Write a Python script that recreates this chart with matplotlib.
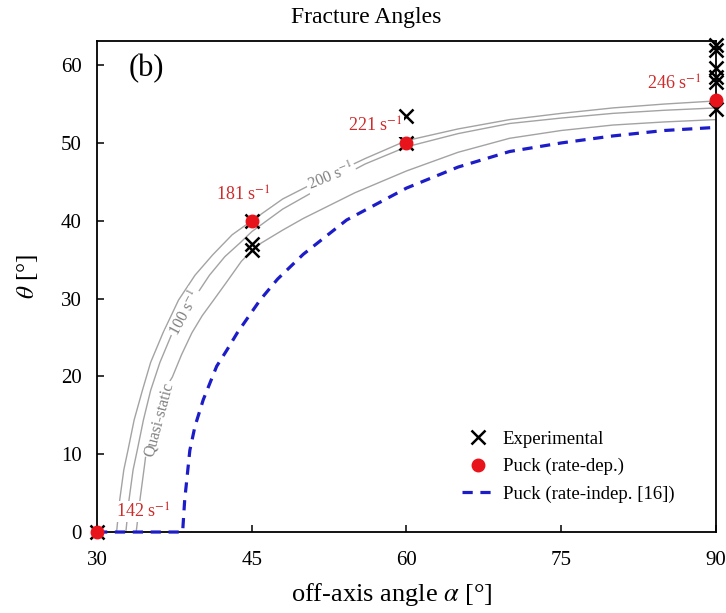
import matplotlib
matplotlib.use('Agg')
import matplotlib.pyplot as plt

plt.rcParams['font.family'] = ['Liberation Serif', 'DejaVu Serif']
plt.rcParams['mathtext.fontset'] = 'stix'

# Gray curves (Puck, rate-dependent at constant strain rate)
qs_alpha = [33.8, 34.2, 34.6, 35.0, 35.7, 37.3, 38.2, 39.2, 40.2, 41.3, 42.5, 44.0, 45.5, 48.0, 50.0, 55.0, 60.0, 65.0, 70.0, 75.0, 80.0, 85.0, 90.0]
qs_theta = [0.0, 4.5, 8.5, 12.7, 16.5, 19.9, 22.8, 25.6, 27.8, 29.8, 32.0, 34.8, 36.8, 38.8, 40.3, 43.6, 46.4, 48.8, 50.6, 51.6, 52.3, 52.7, 53.0]

r100_alpha = [32.8, 33.1, 33.5, 33.9, 34.5, 35.2, 36.1, 37.3, 39.3, 40.9, 42.4, 43.9, 45.0, 48.0, 52.0, 56.0, 60.0, 65.0, 70.0, 75.0, 80.0, 85.0, 90.0]
r100_theta = [0.0, 4.1, 8.0, 10.5, 14.4, 18.2, 21.8, 25.6, 29.8, 33.0, 35.4, 37.2, 38.6, 41.5, 44.5, 47.3, 49.5, 51.2, 52.5, 53.2, 53.8, 54.2, 54.5]

r200_alpha = [31.9, 32.2, 32.6, 33.0, 33.6, 34.4, 35.2, 36.4, 37.9, 39.5, 41.2, 43.1, 45.0, 48.0, 52.0, 56.0, 60.0, 65.0, 70.0, 75.0, 80.0, 85.0, 90.0]
r200_theta = [0.0, 4.1, 8.0, 10.5, 14.4, 18.2, 21.8, 25.6, 29.8, 33.0, 35.6, 38.2, 40.0, 42.8, 45.5, 48.0, 50.3, 51.8, 53.0, 53.8, 54.5, 55.0, 55.4]

# Puck rate-independent [16]
ri_alpha = [30.0, 38.3, 38.5, 39.0, 39.5, 40.3, 41.6, 42.6, 43.6, 45.8, 47.5, 50.0, 54.2, 60.0, 65.0, 70.0, 75.0, 80.0, 85.0, 90.0]
ri_theta = [0.0, 0.0, 4.1, 10.5, 13.6, 17.0, 21.3, 23.4, 25.6, 29.8, 32.5, 35.7, 40.1, 44.2, 46.9, 48.9, 50.0, 50.9, 51.6, 52.0]

# Experimental fracture angles
exp_alpha = [30, 45, 45, 45, 60, 60, 90, 90, 90, 90, 90, 90]
exp_theta = [0.0, 40.0, 37.0, 36.3, 53.5, 50.0, 62.6, 62.0, 59.6, 58.5, 57.8, 54.3]

# Puck rate-dependent (at test strain rate)
puck_alpha = [30, 45, 60, 90]
puck_theta = [0.0, 40.0, 50.0, 55.5]
rate_labels = ['142 s$^{-1}$', '181 s$^{-1}$', '221 s$^{-1}$', '246 s$^{-1}$']
rate_label_pos = [(34.5, 2.6), (44.2, 43.3), (57.0, 52.1), (86.0, 57.6)]

fig = plt.figure(figsize=(7.26, 6.13), dpi=100)
ax = fig.add_axes([0.1336, 0.1321, 0.8526, 0.801])

gray = '#a3a3a3'
ax.plot(qs_alpha, qs_theta, color=gray, lw=1.0, zorder=1)
ax.plot(r100_alpha, r100_theta, color=gray, lw=1.0, zorder=1)
ax.plot(r200_alpha, r200_theta, color=gray, lw=1.0, zorder=1)

bb = dict(boxstyle='square,pad=0.1', fc='white', ec='none')
ax.text(36.0, 14.5, 'Quasi-static', color='#808080', fontsize=11.5, rotation=75,
        ha='center', va='center', bbox=bb, zorder=2)
ax.text(38.6, 28.1, '100 s$^{-1}$', color='#808080', fontsize=11.5, rotation=62,
        ha='center', va='center', bbox=bb, zorder=2)
ax.text(52.7, 45.6, '200 s$^{-1}$', color='#808080', fontsize=11.5, rotation=22,
        ha='center', va='center', bbox=bb, zorder=2)

ax.plot(ri_alpha, ri_theta, color='#1c1cc8', lw=2.3, linestyle=(0, (3.2, 2.4)),
        zorder=3, label='Puck (rate-indep. [16])', clip_on=False)

ax.plot(exp_alpha, exp_theta, linestyle='none', marker='x', color='black', ms=10,
        mew=1.8, zorder=4, label='Experimental', clip_on=False)
ax.plot(puck_alpha, puck_theta, linestyle='none', marker='o', color='#e8141c', ms=9,
        zorder=5, label='Puck (rate-dep.)', clip_on=False)

for lab, (xa, yt) in zip(rate_labels, rate_label_pos):
    ax.text(xa, yt, lab, color='#cf2b2b', fontsize=13, ha='center', va='center', zorder=6,
            bbox=dict(boxstyle='square,pad=0.05', fc='white', ec='none'))

ax.text(34.8, 59.6, '(b)', fontsize=22, ha='center', va='center')

ax.set_xlim(30, 90)
ax.set_ylim(0, 63.1)
ax.set_xticks([30, 45, 60, 75, 90])
ax.set_yticks([0, 10, 20, 30, 40, 50, 60])
ax.tick_params(axis='both', direction='in', length=5, width=1.1, labelsize=15)
ax.tick_params(axis='x', pad=14)
ax.tick_params(axis='y', pad=11)
for s in ax.spines.values():
    s.set_linewidth(1.3)

ax.set_xlabel(r'off-axis angle $\alpha$ [°]', fontsize=19)
ax.set_ylabel(r'$\theta$ [°]', fontsize=18)
ax.xaxis.set_label_coords(0.477, -0.1)
ax.yaxis.set_label_coords(-0.092, 0.52)

fig.text(366 / 726, 1 - 17 / 613, 'Fracture Angles', fontsize=17, ha='center', va='center')

h, l = ax.get_legend_handles_labels()
order = [1, 2, 0]
ax.legend([h[i] for i in order], [l[i] for i in order], loc='upper left',
          bbox_to_anchor=(0.589, 0.207), frameon=False, fontsize=13.5,
          handlelength=1.7, handletextpad=0.5, borderpad=0, borderaxespad=0,
          labelspacing=0.55)

fig.savefig('out.png', dpi=100)
